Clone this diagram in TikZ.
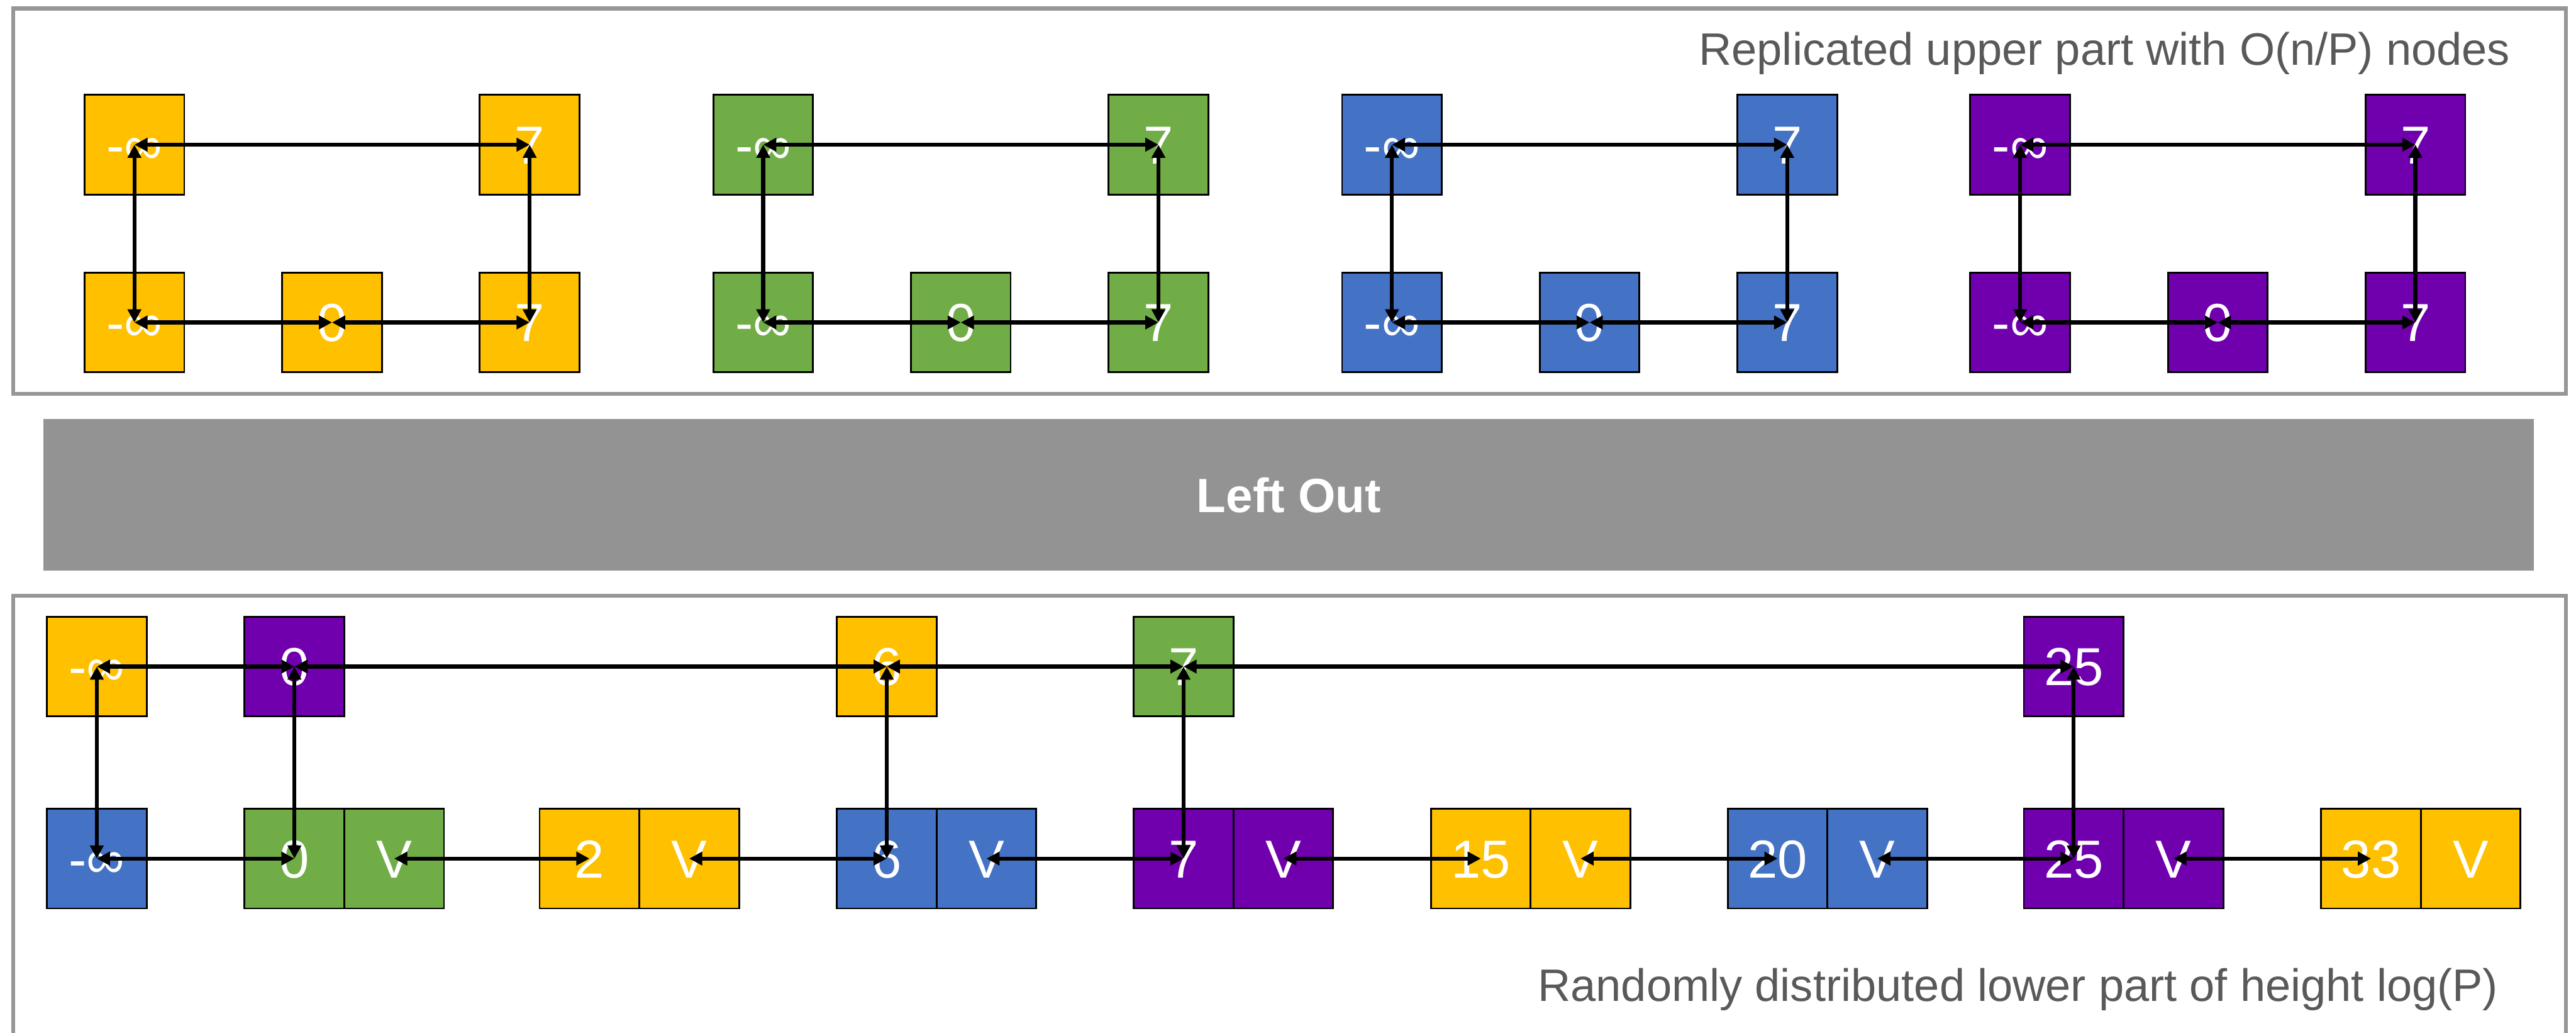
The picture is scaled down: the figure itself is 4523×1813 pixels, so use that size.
\documentclass[tikz,border=0pt]{standalone}
\usepackage{fontspec}
\setmainfont{Liberation Sans}
\usetikzlibrary{arrows.meta}
\definecolor{cyellow}{HTML}{FFC000}
\definecolor{cgreen}{HTML}{70AD47}
\definecolor{cblue}{HTML}{4472C4}
\definecolor{cpurple}{HTML}{7000AE}
\definecolor{framegray}{HTML}{969696}
\definecolor{bargray}{HTML}{939393}
\definecolor{labelgray}{HTML}{595959}

\begin{document}
\begin{tikzpicture}[x=0.01cm,y=-0.01cm,
  cell/.style={rectangle,draw=black,line width=0.9pt,minimum width=1.75cm,
    minimum height=1.75cm,inner sep=0pt,outer sep=0pt,text=white,
    font=\fontsize{26.7}{30}\selectfont,text height=0.67cm,text depth=0pt},
  link/.style={line width=2pt,
    {Triangle[length=0.23cm,width=0.23cm]}-{Triangle[length=0.23cm,width=0.23cm]}},
  frame/.style={draw=framegray,line width=2pt},
  caption/.style={text=labelgray,font=\fontsize{22.7}{27}\selectfont,inner sep=0pt}
]
\useasboundingbox (0,0) rectangle (4523,1813);

% frames of the two parts
\draw[frame] (23,15) rectangle (4505,691);
\draw[frame] (23,1813) -- (23,1046) -- (4505,1046) -- (4505,1813);

% middle band
\node[fill=bargray,minimum width=43.7cm,minimum height=2.67cm,inner sep=0pt,
  text=white,font=\bfseries\fontsize{24}{28}\selectfont,
  text height=0.61cm,text depth=0pt] (bar) at (2263,868.5) {Left Out};

% captions
\node[caption,anchor=base east] (uppercap) at (4408,114)
  {Replicated upper part with O(n/P) nodes};
\node[caption,anchor=base east] (lowercap) at (4387,1757)
  {Randomly distributed lower part of height log(P)};

% replicated upper parts, one per processor
\foreach \g/\c [count=\i] in {149/cyellow,1253/cgreen,2357/cblue,3460/cpurple}{
  \node[cell,fill=\c] (ut0-\i) at (\g+87,254) {-∞};
  \node[cell,fill=\c] (ut2-\i) at (\g+781,254) {7};
  \node[cell,fill=\c] (ub0-\i) at (\g+87,566) {-∞};
  \node[cell,fill=\c] (ub1-\i) at (\g+434,566) {0};
  \node[cell,fill=\c] (ub2-\i) at (\g+781,566) {7};
  \draw[link] (ut0-\i.center) -- (ut2-\i.center);
  \draw[link] (ut0-\i.center) -- (ub0-\i.center);
  \draw[link] (ut2-\i.center) -- (ub2-\i.center);
  \draw[link] (ub0-\i.center) -- (ub1-\i.center);
  \draw[link] (ub1-\i.center) -- (ub2-\i.center);
}

% lower part: upper level
\node[cell,fill=cyellow] (lt-inf) at (170,1170) {-∞};
\node[cell,fill=cpurple] (lt-0) at (517,1170) {0};
\node[cell,fill=cyellow] (lt-6) at (1557,1170) {6};
\node[cell,fill=cgreen] (lt-7) at (2078,1170) {7};
\node[cell,fill=cpurple] (lt-25) at (3641,1170) {25};

% lower part: bottom level with values
\node[cell,fill=cblue] (lb-inf) at (170,1507) {-∞};
\foreach \x/\k/\c in {517/0/cgreen,1035/2/cyellow,1557/6/cblue,2078/7/cpurple,
    2600/15/cyellow,3121/20/cblue,3641/25/cpurple,4163/33/cyellow}{
  \node[cell,fill=\c] (lk-\k) at (\x,1507) {\k};
  \node[cell,fill=\c,anchor=west] (lv-\k) at (lk-\k.east) {V};
}

% links of the upper level
\draw[link] (lt-inf.center) -- (lt-0.center);
\draw[link] (lt-0.center) -- (lt-6.center);
\draw[link] (lt-6.center) -- (lt-7.center);
\draw[link] (lt-7.center) -- (lt-25.center);

% vertical links
\draw[link] (lt-inf.center) -- (lb-inf.center);
\draw[link] (lt-0.center) -- (lk-0.center);
\draw[link] (lt-6.center) -- (lk-6.center);
\draw[link] (lt-7.center) -- (lk-7.center);
\draw[link] (lt-25.center) -- (lk-25.center);

% links of the bottom level
\draw[link] (lb-inf.center) -- (lk-0.center);
\draw[link] (lv-0.center) -- (lk-2.center);
\draw[link] (lv-2.center) -- (lk-6.center);
\draw[link] (lv-6.center) -- (lk-7.center);
\draw[link] (lv-7.center) -- (lk-15.center);
\draw[link] (lv-15.center) -- (lk-20.center);
\draw[link] (lv-20.center) -- (lk-25.center);
\draw[link] (lv-25.center) -- (lk-33.center);
\end{tikzpicture}
\end{document}
